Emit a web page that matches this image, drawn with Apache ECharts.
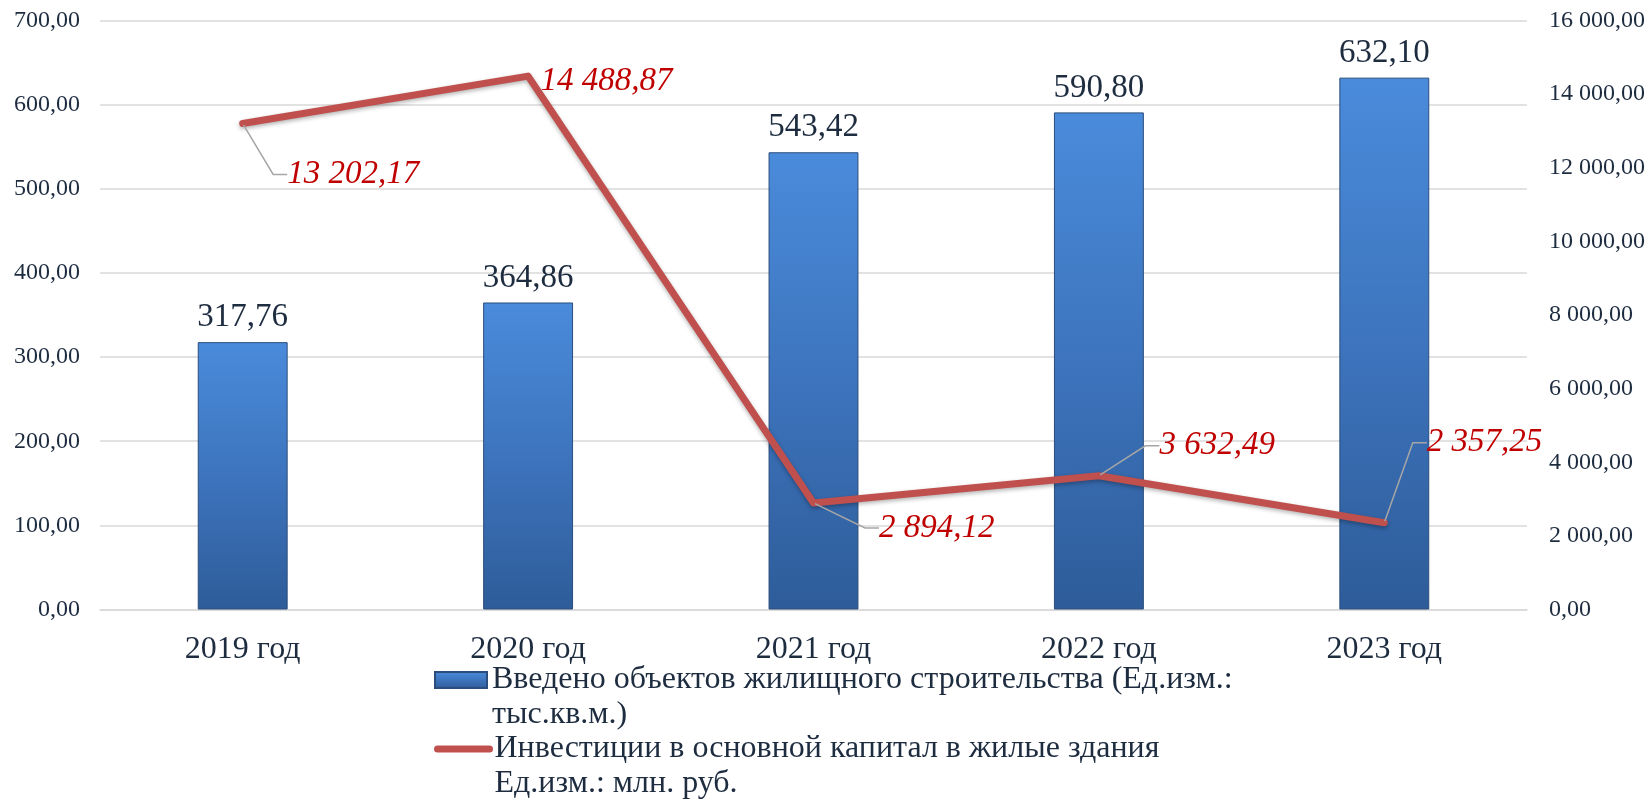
<!DOCTYPE html>
<html>
<head>
<meta charset="utf-8">
<script src="https://cdn.jsdelivr.net/npm/echarts@6/dist/echarts.min.js"></script>
<style>
html,body{margin:0;padding:0;background:#fff;}
#chart{width:1648px;height:802px;}
</style>
</head>
<body>
<div id="chart"></div>
<script>
const categories = ['2019 год', '2020 год', '2021 год', '2022 год', '2023 год'];
const housingBuilt = [317.76, 364.86, 543.42, 590.80, 632.10];
const investment = [13202.17, 14488.87, 2894.12, 3632.49, 2357.25];
const leftTicks = {min: 0, max: 700, interval: 100};
const rightTicks = {min: 0, max: 16000, interval: 2000};
const barName = 'Введено объектов жилищного строительства (Ед.изм.: тыс.кв.м.)';
const lineName = 'Инвестиции в основной капитал в жилые здания Ед.изм.: млн. руб.';
const barLegendLines = ['Введено объектов жилищного строительства (Ед.изм.:', 'тыс.кв.м.)'];
const lineLegendLines = ['Инвестиции в основной капитал в жилые здания', 'Ед.изм.: млн. руб.'];

function ru(v) {
  const s = Number(v).toFixed(2);
  const parts = s.split('.');
  return parts[0].replace(/\B(?=(\d{3})+(?!\d))/g, ' ') + ',' + parts[1];
}

const FONT = '"Liberation Serif", "Times New Roman", serif';
const NAVY = '#1e2c40';
const labelShift = [[32, 51], [0, 5], [53, 25], [48, -30], [30, -80]];

const legendText = {fontFamily: FONT, fontSize: 32, color: NAVY, lineHeight: 35};

const chart = echarts.init(document.getElementById('chart'), null, {renderer: 'canvas'});
chart.setOption({
  animation: false,
  backgroundColor: '#ffffff',
  grid: {left: 100, right: 120, top: 20.5, bottom: 192.5, containLabel: false},
  legend: [
    {
      orient: 'vertical', left: 434, top: 627.5, padding: 0,
      itemWidth: 52, itemHeight: 16, selectedMode: false,
      textStyle: legendText,
      formatter: function () { return '\n' + barLegendLines.join('\n'); },
      data: [{name: barName, icon: 'rect'}]
    },
    {
      orient: 'vertical', left: 434, top: 696.5, padding: 0,
      itemWidth: 52, itemHeight: 16, selectedMode: false,
      textStyle: legendText,
      lineStyle: {width: 7, cap: 'round'},
      formatter: function () { return '\n' + lineLegendLines.join('\n'); },
      data: [{name: lineName, itemStyle: {opacity: 0}}]
    }
  ],
  xAxis: {
    type: 'category',
    data: categories,
    axisTick: {show: false},
    axisLine: {show: true, lineStyle: {color: '#d9d9d9', width: 1.5}},
    axisLabel: {fontFamily: FONT, fontSize: 32, color: NAVY, margin: 24}
  },
  yAxis: [
    {
      type: 'value', min: leftTicks.min, max: leftTicks.max, interval: leftTicks.interval,
      axisLine: {show: false}, axisTick: {show: false},
      splitLine: {lineStyle: {color: '#d9d9d9', width: 1.5}},
      axisLabel: {fontFamily: FONT, fontSize: 24, color: NAVY, margin: 20, formatter: ru}
    },
    {
      type: 'value', min: rightTicks.min, max: rightTicks.max, interval: rightTicks.interval,
      position: 'right',
      axisLine: {show: false}, axisTick: {show: false},
      splitLine: {show: false},
      axisLabel: {fontFamily: FONT, fontSize: 24, color: NAVY, margin: 22, formatter: ru}
    }
  ],
  series: [
    {
      name: barName,
      type: 'bar',
      yAxisIndex: 0,
      barWidth: '31.5%',
      data: housingBuilt,
      itemStyle: {
        color: new echarts.graphic.LinearGradient(0, 0, 0, 1, [
          {offset: 0, color: '#4a8bdb'},
          {offset: 0.5, color: '#3d74bd'},
          {offset: 1, color: '#2e5c99'}
        ]),
        borderColor: '#2a4d7c',
        borderWidth: 1
      },
      label: {
        show: true, position: 'top', distance: 8,
        fontFamily: FONT, fontSize: 33, color: NAVY,
        formatter: function (p) { return ru(p.value); }
      }
    },
    {
      name: lineName,
      type: 'line',
      yAxisIndex: 1,
      data: investment.map(function (v, i) {
        return i === 1 ? {value: v, labelLine: {show: false}} : {value: v};
      }),
      symbol: 'circle',
      symbolSize: 3,
      showSymbol: true,
      itemStyle: {color: '#c0504d'},
      lineStyle: {color: '#c0504d', width: 7, cap: 'round', join: 'round',
        shadowColor: 'rgba(0,0,0,0.3)', shadowBlur: 4, shadowOffsetY: 2},
      label: {
        show: true, position: 'right', distance: 5,
        padding: [0, 0, 0, 6],
        fontFamily: FONT, fontSize: 33, fontStyle: 'italic', color: '#c00000',
        formatter: function (p) { return ru(p.value); }
      },
      labelLine: {show: true, length2: 14, lineStyle: {color: '#a6a6a6', width: 1.5}},
      labelLayout: function (p) {
        const s = labelShift[p.dataIndex];
        return {dx: s[0], dy: s[1]};
      }
    }
  ]
});
</script>
</body>
</html>
